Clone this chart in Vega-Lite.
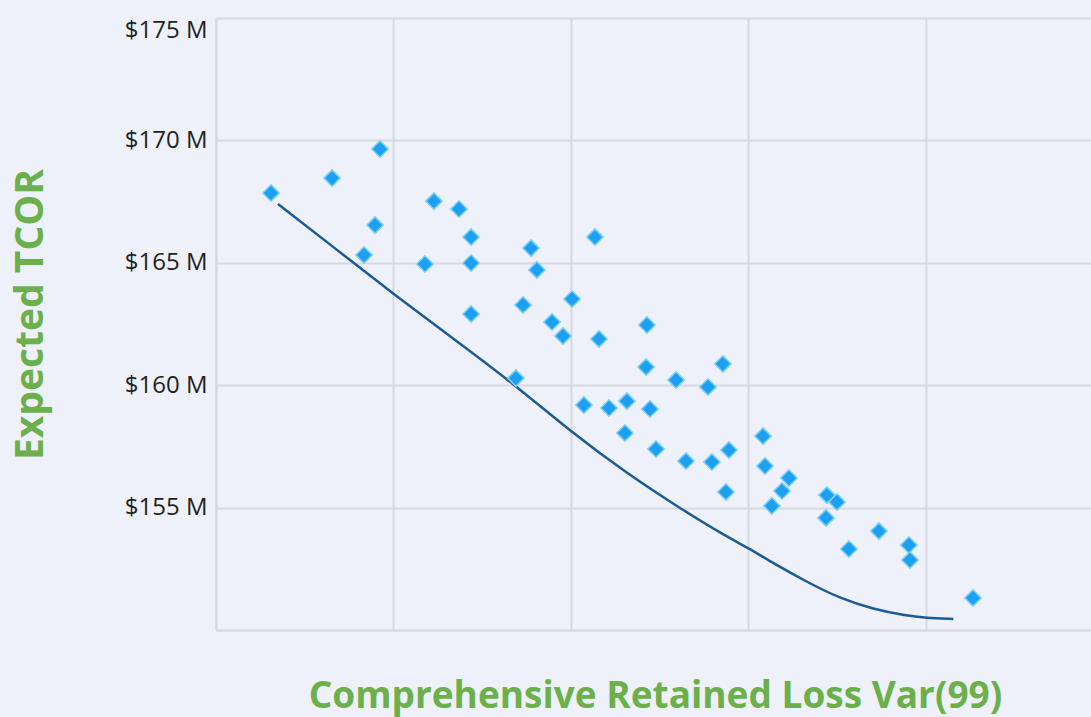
{
  "$schema": "https://vega.github.io/schema/vega-lite/v6.json",
  "width": 875,
  "height": 612,
  "autosize": "none",
  "padding": {"left": 216, "top": 18, "right": 0, "bottom": 87},
  "background": "#EEF1FA",
  "config": {"view": {"stroke": null}},
  "datasets": {
    "points": [
      {"var99": 0.310, "tcor": 167.85}, {"var99": 0.654, "tcor": 168.46}, {"var99": 0.924, "tcor": 169.65},
      {"var99": 0.896, "tcor": 166.54}, {"var99": 0.834, "tcor": 165.32}, {"var99": 1.228, "tcor": 167.52},
      {"var99": 1.369, "tcor": 167.20}, {"var99": 1.437, "tcor": 166.05}, {"var99": 1.177, "tcor": 164.95},
      {"var99": 1.437, "tcor": 164.99}, {"var99": 1.437, "tcor": 162.91}, {"var99": 1.690, "tcor": 160.29},
      {"var99": 1.775, "tcor": 165.60}, {"var99": 1.808, "tcor": 164.71}, {"var99": 1.730, "tcor": 163.28},
      {"var99": 1.893, "tcor": 162.58}, {"var99": 1.955, "tcor": 162.01}, {"var99": 2.006, "tcor": 163.52},
      {"var99": 2.135, "tcor": 166.05}, {"var99": 2.158, "tcor": 161.89}, {"var99": 2.073, "tcor": 159.19},
      {"var99": 2.214, "tcor": 159.07}, {"var99": 2.315, "tcor": 159.35}, {"var99": 2.304, "tcor": 158.05},
      {"var99": 2.428, "tcor": 162.46}, {"var99": 2.423, "tcor": 160.74}, {"var99": 2.445, "tcor": 159.03},
      {"var99": 2.479, "tcor": 157.39}, {"var99": 2.592, "tcor": 160.21}, {"var99": 2.648, "tcor": 156.90},
      {"var99": 2.772, "tcor": 159.93}, {"var99": 2.794, "tcor": 156.86}, {"var99": 2.856, "tcor": 160.87},
      {"var99": 2.890, "tcor": 157.35}, {"var99": 2.873, "tcor": 155.64}, {"var99": 3.082, "tcor": 157.92},
      {"var99": 3.093, "tcor": 156.70}, {"var99": 3.132, "tcor": 155.07}, {"var99": 3.189, "tcor": 155.68},
      {"var99": 3.228, "tcor": 156.21}, {"var99": 3.442, "tcor": 155.51}, {"var99": 3.499, "tcor": 155.23},
      {"var99": 3.437, "tcor": 154.58}, {"var99": 3.566, "tcor": 153.31}, {"var99": 3.735, "tcor": 154.04},
      {"var99": 3.904, "tcor": 153.47}, {"var99": 3.910, "tcor": 152.86}, {"var99": 4.265, "tcor": 151.31}
    ],
    "frontier": [
      {"var99": 0.349, "tcor": 167.40}, {"var99": 0.676, "tcor": 165.56}, {"var99": 1.003, "tcor": 163.71},
      {"var99": 1.335, "tcor": 161.91}, {"var99": 1.673, "tcor": 160.08}, {"var99": 2.004, "tcor": 158.07},
      {"var99": 2.314, "tcor": 156.40}, {"var99": 2.614, "tcor": 154.97}, {"var99": 2.877, "tcor": 153.81},
      {"var99": 3.003, "tcor": 153.34}, {"var99": 3.140, "tcor": 152.72}, {"var99": 3.328, "tcor": 151.97},
      {"var99": 3.515, "tcor": 151.29}, {"var99": 3.703, "tcor": 150.85}, {"var99": 3.891, "tcor": 150.58},
      {"var99": 3.998, "tcor": 150.50}, {"var99": 4.154, "tcor": 150.45}
    ]
  },
  "encoding": {
    "x": {
      "field": "var99",
      "type": "quantitative",
      "scale": {"domain": [0, 4.93], "nice": false, "zero": false},
      "axis": {
        "title": "Comprehensive Retained Loss Var(99)",
        "values": [0, 1, 2, 3, 4],
        "labels": false,
        "ticks": false,
        "grid": true,
        "gridColor": "#D8D9DE",
        "gridWidth": 2,
        "domain": true,
        "domainColor": "#D8D9DE",
        "domainWidth": 2,
        "titleFont": "Open Sans",
        "titleFontWeight": "bold",
        "titleFontSize": 37,
        "titleColor": "#6BB04A",
        "titleAlign": "center",
        "titleBaseline": "alphabetic",
        "titleX": 439,
        "titleY": 77
      }
    },
    "y": {
      "field": "tcor",
      "type": "quantitative",
      "scale": {"domain": [150, 175], "nice": false, "zero": false},
      "axis": {
        "title": "Expected TCOR",
        "values": [150, 155, 160, 165, 170, 175],
        "labelExpr": "datum.value == 150 ? '' : '$' + datum.value + ' M'",
        "ticks": false,
        "grid": true,
        "gridColor": "#D8D9DE",
        "gridWidth": 2,
        "domain": true,
        "domainColor": "#D8D9DE",
        "domainWidth": 2,
        "labelFont": "Open Sans",
        "labelFontSize": 24,
        "labelColor": "#222222",
        "labelPadding": 9,
        "labelBaseline": {"condition": {"test": "datum.value == 175", "value": "top"}, "value": "middle"},
        "titleFont": "Open Sans",
        "titleFontWeight": "bold",
        "titleFontSize": 39,
        "titleColor": "#6BB04A",
        "titleAngle": -90,
        "titleAlign": "center",
        "titleBaseline": "alphabetic",
        "titleX": -174,
        "titleY": 296
      }
    }
  },
  "layer": [
    {
      "data": {"name": "frontier"},
      "mark": {"type": "line", "color": "#1C5A94", "strokeWidth": 2.5, "interpolate": "basis"}
    },
    {
      "data": {"name": "points"},
      "mark": {"type": "point", "shape": "diamond", "filled": true, "size": 270, "fill": "#1BA0F2", "stroke": "#7FD0F2", "strokeWidth": 1.5, "opacity": 1, "fillOpacity": 1}
    }
  ]
}
